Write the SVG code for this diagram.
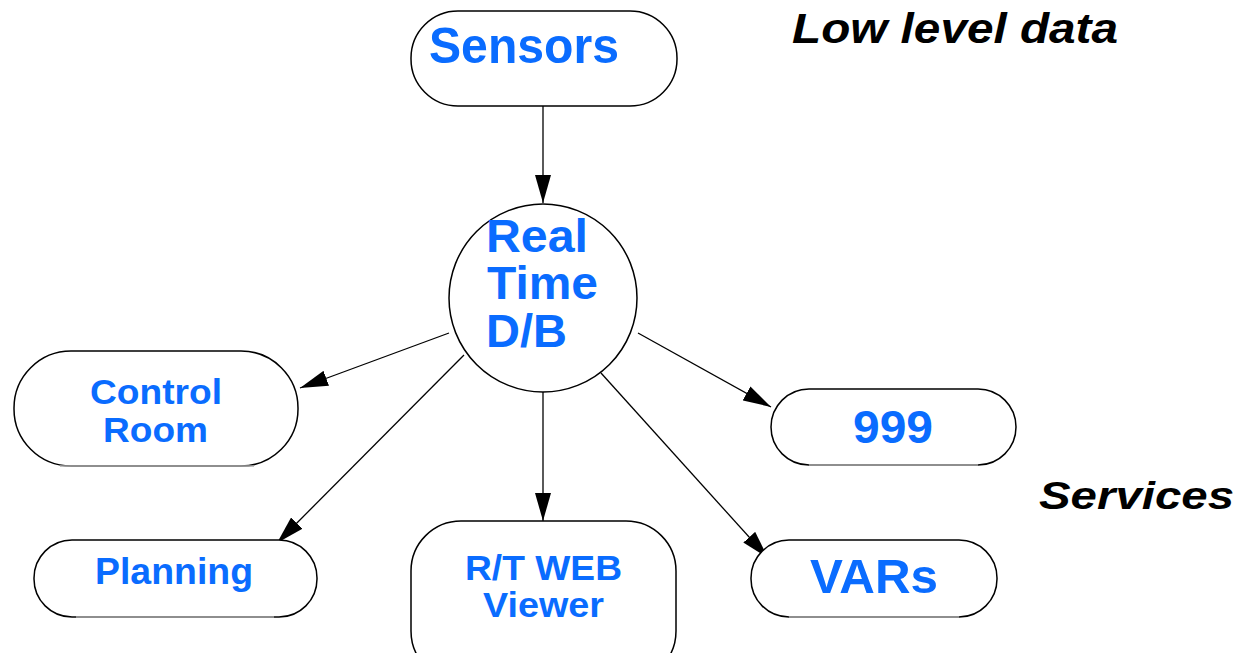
<svg xmlns="http://www.w3.org/2000/svg" width="1241" height="653" viewBox="0 0 1241 653">
<defs>
<style>
.box{fill:#fff;stroke:#000;stroke-width:1.5}
.bot{stroke:#aaa;stroke-width:1.5}
.lbl{font-family:"Liberation Sans",Arial,sans-serif;font-weight:bold;fill:#0a6cff}
.hdr{font-family:"Liberation Sans",Arial,sans-serif;font-weight:bold;font-style:italic;fill:#000}
.edge{stroke:#000;stroke-width:1.3;fill:none;marker-end:url(#ah)}
</style>
<marker id="ah" viewBox="0 0 28 16" refX="28" refY="8" markerWidth="28" markerHeight="16" markerUnits="userSpaceOnUse" orient="auto">
<path d="M0,0 L28,8 L0,16 Z" fill="#000"/>
</marker>
</defs>
<rect width="1241" height="653" fill="#fff"/>
<g id="connectors">
<line class="edge" x1="543" y1="106" x2="543" y2="203"/>
<line class="edge" x1="449" y1="333" x2="300" y2="388"/>
<line class="edge" x1="464" y1="355" x2="277" y2="543"/>
<line class="edge" x1="543" y1="392" x2="543" y2="521"/>
<line class="edge" x1="601" y1="373" x2="768" y2="558"/>
<line class="edge" x1="638" y1="333" x2="771" y2="407"/>
</g>
<g id="sensors">
<rect class="box" x="411" y="11" width="266" height="95" rx="47" ry="47"/>
<text class="lbl" x="429" y="63" font-size="50" textLength="190" lengthAdjust="spacingAndGlyphs">Sensors</text>
</g>
<g id="rtdb">
<circle class="box" cx="543" cy="298" r="94"/>
<text class="lbl" x="486" y="252" font-size="46" textLength="102" lengthAdjust="spacingAndGlyphs">Real</text>
<text class="lbl" x="487" y="299" font-size="46" textLength="111" lengthAdjust="spacingAndGlyphs">Time</text>
<text class="lbl" x="486" y="347" font-size="46" textLength="81" lengthAdjust="spacingAndGlyphs">D/B</text>
</g>
<g id="control">
<rect class="box" x="14" y="351" width="284" height="115" rx="57" ry="57"/>
<line class="bot" x1="60" y1="466" x2="254" y2="466"/>
<text class="lbl" x="90" y="404" font-size="35" textLength="132" lengthAdjust="spacingAndGlyphs">Control</text>
<text class="lbl" x="103" y="442" font-size="35" textLength="105" lengthAdjust="spacingAndGlyphs">Room</text>
</g>
<g id="n999">
<rect class="box" x="771" y="389" width="245" height="76" rx="38" ry="38"/>
<line class="bot" x1="809" y1="465" x2="978" y2="465"/>
<text class="lbl" x="853" y="443" font-size="47" textLength="80" lengthAdjust="spacingAndGlyphs">999</text>
</g>
<g id="planning">
<rect class="box" x="34" y="540" width="283" height="77" rx="38" ry="38"/>
<line class="bot" x1="76" y1="617" x2="274" y2="617"/>
<text class="lbl" x="95" y="584" font-size="36" textLength="158" lengthAdjust="spacingAndGlyphs">Planning</text>
</g>
<g id="rtweb">
<rect class="box" x="411" y="521" width="265" height="160" rx="50" ry="50"/>
<text class="lbl" x="465" y="580" font-size="35" textLength="157" lengthAdjust="spacingAndGlyphs">R/T WEB</text>
<text class="lbl" x="483" y="617" font-size="35" textLength="121" lengthAdjust="spacingAndGlyphs">Viewer</text>
</g>
<g id="vars">
<rect class="box" x="751" y="540" width="246" height="77" rx="38" ry="38"/>
<line class="bot" x1="789" y1="617" x2="959" y2="617"/>
<text class="lbl" x="810" y="593" font-size="49" textLength="128" lengthAdjust="spacingAndGlyphs">VARs</text>
</g>
<text class="hdr" x="792" y="43" font-size="42" textLength="326" lengthAdjust="spacingAndGlyphs">Low level data</text>
<text class="hdr" x="1039" y="509" font-size="39" textLength="195" lengthAdjust="spacingAndGlyphs">Services</text>
</svg>
